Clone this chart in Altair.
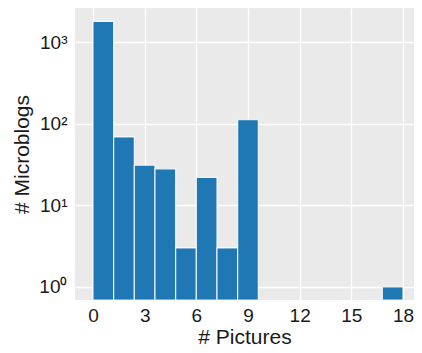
import altair as alt
import pandas as pd

bin_start = [0.0, 1.2, 2.4, 3.6, 4.8, 6.0, 7.2, 8.4, 16.8]
bin_end = [1.2, 2.4, 3.6, 4.8, 6.0, 7.2, 8.4, 9.6, 18.0]
counts = [1800, 69, 31, 28, 3, 22, 3, 112, 1]
x_ticks = [0, 3, 6, 9, 12, 15, 18]
y_ticks = [1, 10, 100, 1000]
y_min = 0.69
y_max = 2630

df = pd.DataFrame({"start": bin_start, "end": bin_end, "count": counts,
                   "base": [y_min] * len(counts)})

FONT = "Liberation Sans"

chart = alt.Chart(df).mark_bar(
    color="#1f77b4", stroke="white", strokeWidth=1.2, strokeOpacity=0.85, clip=True
).encode(
    x=alt.X("start:Q",
            scale=alt.Scale(domain=[-1.045, 18.64], nice=False, zero=False),
            axis=alt.Axis(values=x_ticks, title="# Pictures", grid=True,
                          gridColor="white", gridWidth=1.3, domain=False, ticks=False,
                          labelFontSize=19, labelPadding=6, titleFontSize=21,
                          titleY=43, titleBaseline="alphabetic",
                          labelFont=FONT, titleFont=FONT,
                          labelColor="#1a1a1a", titleColor="#1a1a1a",
                          titleFontWeight="normal")),
    x2="end:Q",
    y=alt.Y("count:Q",
            scale=alt.Scale(type="log", domain=[y_min, y_max], nice=False),
            axis=alt.Axis(values=y_ticks, title="# Microblogs", grid=True,
                          gridColor="white", gridWidth=1.3, domain=False, ticks=False,
                          labelExpr="datum.value == 1 ? '10⁰' : datum.value == 10 ? '10¹' : datum.value == 100 ? '10²' : '10³'",
                          labelFontSize=19, labelPadding=8, titleFontSize=21,
                          titlePadding=6, labelFont=FONT, titleFont=FONT,
                          labelColor="#1a1a1a", titleColor="#1a1a1a",
                          titleFontWeight="normal")),
    y2="base:Q",
).properties(
    width=339, height=292,
    autosize=alt.AutoSizeParams(type="none"),
    padding={"left": 67, "top": 0, "right": 0, "bottom": 48},
).configure_view(
    fill="#eaeaea", stroke=None
)

chart.save("out.html", embed_options={"renderer": "svg", "actions": False})
